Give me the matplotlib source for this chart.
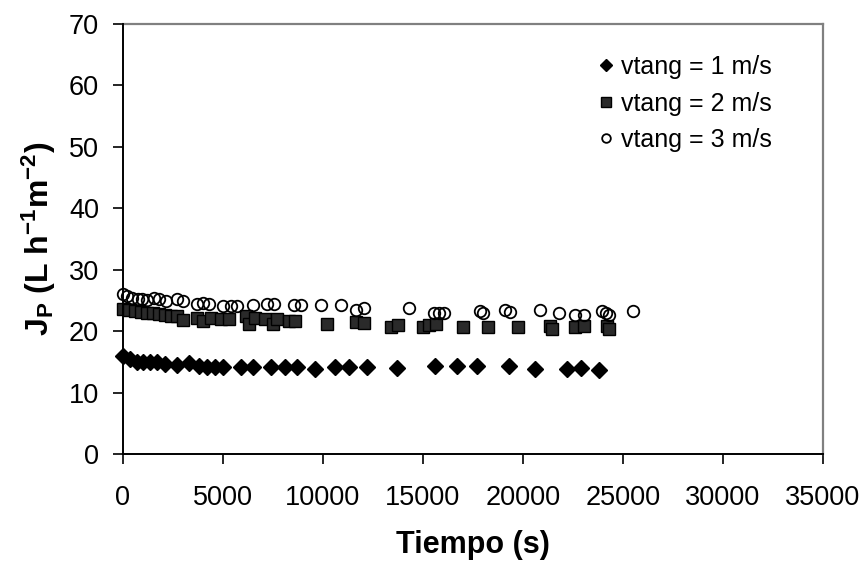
import matplotlib
matplotlib.use("Agg")
import matplotlib.pyplot as plt

plt.rcParams['font.family'] = ['Liberation Sans', 'DejaVu Sans']
plt.rcParams['mathtext.fontset'] = 'custom'
plt.rcParams['mathtext.rm'] = 'Liberation Sans'
plt.rcParams['mathtext.bf'] = 'Liberation Sans:bold'
plt.rcParams['mathtext.it'] = 'Liberation Sans:italic'

# ---- data ----
series_labels = ["vtang = 1 m/s", "vtang = 2 m/s", "vtang = 3 m/s"]

t_v1 = [0, 350, 700, 1000, 1350, 1700, 2100, 2700, 3300, 3800, 4200, 4600, 5000,
        5900, 6500, 7400, 8100, 8700, 9600, 10600, 11300, 12200, 13700, 15600,
        16700, 17700, 19300, 20600, 22200, 22900, 23800]
j_v1 = [16.0, 15.4, 15.0, 15.0, 14.9, 14.9, 14.7, 14.5, 14.8, 14.3, 14.2, 14.2, 14.1,
        14.2, 14.2, 14.1, 14.1, 14.1, 13.9, 14.1, 14.1, 14.1, 14.0, 14.3,
        14.3, 14.3, 14.3, 13.9, 13.9, 14.0, 13.6]

t_v2 = [0, 300, 600, 900, 1200, 1500, 1800, 2100, 2400, 2700, 3000, 3700, 4000,
        4400, 4900, 5300, 6150, 6300, 6600, 7100, 7500, 7700, 8300, 8600, 10200,
        11650, 12050, 13400, 13750, 15000, 15300, 15650, 17000, 18250, 19750,
        21350, 21450, 22600, 23050, 24200, 24300]
j_v2 = [23.6, 23.4, 23.2, 23.1, 23.0, 22.9, 22.8, 22.6, 22.5, 22.4, 21.8, 22.1, 21.7,
        22.1, 22.0, 21.9, 22.4, 21.1, 22.2, 22.0, 21.1, 21.9, 21.6, 21.7, 21.2,
        21.5, 21.3, 20.7, 21.0, 20.7, 21.0, 21.1, 20.7, 20.7, 20.7,
        20.9, 20.4, 20.7, 20.9, 20.8, 20.3]

t_v3 = [0, 200, 450, 750, 950, 1200, 1550, 1800, 2150, 2700, 3000, 3700, 4000,
        4300, 5000, 5400, 5700, 6500, 7200, 7550, 8550, 8900, 9900, 10900, 11650,
        12050, 14300, 15550, 15800, 16050, 17850, 18000, 19100, 19350, 20850,
        21800, 22600, 23050, 23950, 24150, 24300, 25500]
j_v3 = [26.0, 25.7, 25.4, 25.3, 25.2, 25.0, 25.4, 25.2, 24.9, 25.2, 24.9, 24.4, 24.6,
        24.5, 24.1, 24.1, 24.1, 24.2, 24.4, 24.4, 24.3, 24.3, 24.3, 24.3, 23.4,
        23.7, 23.8, 23.0, 23.0, 23.0, 23.3, 23.0, 23.5, 23.1, 23.4,
        23.0, 22.7, 22.7, 23.3, 23.0, 22.7, 23.2]

x_ticks = [0, 5000, 10000, 15000, 20000, 25000, 30000, 35000]
y_ticks = [0, 10, 20, 30, 40, 50, 60, 70]

# ---- figure ----
fig = plt.figure(figsize=(8.63, 5.68), dpi=100)
ax = fig.add_axes([0.1422, 0.2007, 0.8111, 0.7570])

ax.plot(t_v1, j_v1, linestyle='none', marker='D', markersize=8.0,
        markerfacecolor='black', markeredgecolor='black', label=series_labels[0],
        clip_on=False, zorder=3)
ax.plot(t_v2, j_v2, linestyle='none', marker='s', markersize=8.8,
        markerfacecolor='#2a2a2a', markeredgecolor='black', markeredgewidth=1.0,
        label=series_labels[1], clip_on=False, zorder=3)
ax.plot(t_v3, j_v3, linestyle='none', marker='o', markersize=8.3,
        markerfacecolor='none', markeredgecolor='black', markeredgewidth=1.3,
        label=series_labels[2], clip_on=False, zorder=4)

ax.set_xlim(0, 35000)
ax.set_ylim(0, 70)
ax.set_xticks(x_ticks)
ax.set_yticks(y_ticks)
ax.set_xticklabels([str(v) for v in x_ticks])
ax.set_yticklabels([str(v) for v in y_ticks])
ax.tick_params(axis='both', direction='out', length=7, width=1.2,
               labelsize=19.5, color='black')
ax.tick_params(axis='x', pad=15)
ax.tick_params(axis='y', pad=10)

for side in ('left', 'bottom'):
    ax.spines[side].set_color('black')
    ax.spines[side].set_linewidth(1.4)
    ax.spines[side].set_zorder(5)
for side in ('top', 'right'):
    ax.spines[side].set_color('#808080')
    ax.spines[side].set_linewidth(1.6)

ax.set_xlabel('Tiempo (s)', fontsize=22, fontweight='bold', labelpad=14)
ax.set_ylabel(r'$\mathbf{J_P\ (L\ h^{-1}m^{-2})}$', fontsize=23, labelpad=8)

leg = ax.legend(loc='upper left', bbox_to_anchor=(0.654, 0.957), frameon=False,
                fontsize=18, handlelength=1.0, handletextpad=0.12,
                labelspacing=0.5, borderpad=0, markerscale=0.75)

fig.savefig('out.png', dpi=100)
